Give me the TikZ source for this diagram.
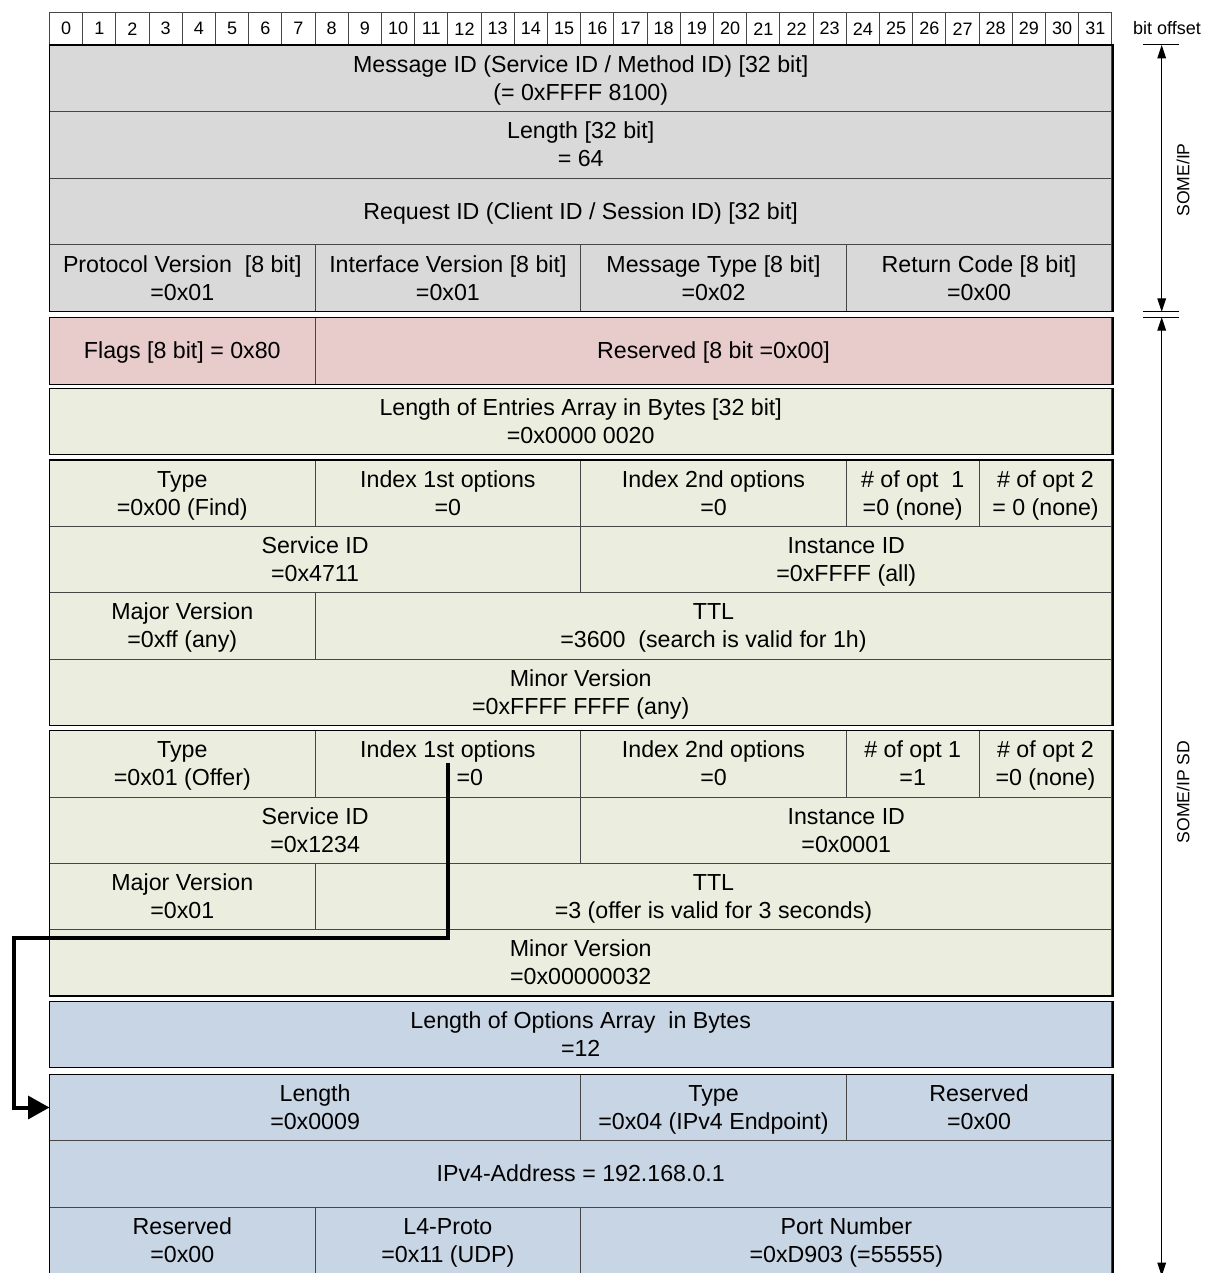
\documentclass[tikz,border=0pt]{standalone}
\usepackage{fontspec}
\setmainfont{Liberation Sans}
\usetikzlibrary{arrows.meta}
\definecolor{cgray}{RGB}{217,217,217}
\definecolor{cpink}{RGB}{232,203,203}
\definecolor{cgreen}{RGB}{235,238,222}
\definecolor{cblue}{RGB}{200,213,228}
\definecolor{cline}{RGB}{70,70,70}
\newcommand\mainf{\fontsize{17.4}{21}\selectfont}
\newcommand\hdrf{\fontsize{13.5}{15}\selectfont}
\newcommand\labf{\fontsize{13.2}{15}\selectfont}
\newcommand\fieldbox[7]{%
  \node[fld,#6,minimum width={(#3-#2)*24.9pt},minimum height={(#5-#4)*0.75pt}] (#1) at ({49.5+(#2+#3)*16.6},{(#4+#5)/2}) {};
  \node[fldtext] (#1t) at ({49.5+(#2+#3)*16.6},{(#4+#5)/2+2.4}) {\strut#7\strut};}
\tikzset{
  fld/.style={draw=cline, line width=0.75pt, inner sep=0pt, outer sep=0pt, rectangle},
  fldtext/.style={inner sep=0pt, outer sep=0pt, align=center, font=\mainf},
  gr/.style={fill=cgray}, pk/.style={fill=cpink}, gn/.style={fill=cgreen}, bl/.style={fill=cblue},
  hdr/.style={draw=cline, fill=white, line width=0.75pt, inner sep=0pt, outer sep=0pt, font=\hdrf, rectangle},
  grp/.style={draw=black, line width=0.9pt},
  lab/.style={font=\labf, inner sep=0pt},
  dimline/.style={line width=0.75pt, {Triangle[length=10pt,width=6.5pt]}-{Triangle[length=10pt,width=6.5pt]}},
  tick/.style={line width=0.75pt},
  bigarrow/.style={line width=3pt, -{Triangle[length=16pt,width=17pt]}}
}
\begin{document}
\begin{tikzpicture}[x=0.75pt,y=-0.75pt]
\useasboundingbox (0,0) rectangle (1204,1273);
% header
\foreach \i in {0,...,31}{
  \node[hdr, minimum width=24.9pt, minimum height={32.5*0.75pt}] (h\i) at ({49.5+33.2*\i+16.6},28.75) {\i};
}
\node[lab, font=\hdrf] (boff) at (1167,28) {bit offset};
% SOME/IP header
\fieldbox{msgid}{0}{32}{45}{111.7}{gr}{Message ID (Service ID / Method ID) [32 bit]\\(= 0xFFFF 8100)}
\fieldbox{len}{0}{32}{111.7}{178.3}{gr}{Length [32 bit]\\= 64}
\fieldbox{reqid}{0}{32}{178.3}{245}{gr}{Request ID (Client ID / Session ID) [32 bit]}
\fieldbox{pv}{0}{8}{245}{311.7}{gr}{Protocol Version\ \ [8 bit]\\=0x01}
\fieldbox{iv}{8}{16}{245}{311.7}{gr}{Interface Version [8 bit]\\=0x01}
\fieldbox{mt}{16}{24}{245}{311.7}{gr}{Message Type [8 bit]\\=0x02}
\fieldbox{rc}{24}{32}{245}{311.7}{gr}{Return Code [8 bit]\\=0x00}
\draw[grp] (49.5,45) rectangle (1112.9,311.7);
% flags
\fieldbox{flags}{0}{8}{317.3}{384.3}{pk}{Flags [8 bit] = 0x80}
\fieldbox{res1}{8}{32}{317.3}{384.3}{pk}{Reserved [8 bit =0x00]}
\draw[grp] (49.5,317.3) rectangle (1112.9,384.3);
% length of entries
\fieldbox{lene}{0}{32}{388.3}{454.7}{gn}{Length of Entries Array in Bytes [32 bit]\\=0x0000 0020}
\draw[grp] (49.5,388.3) rectangle (1112.9,454.7);
% entry 1
\fieldbox{eat}{0}{8}{460}{526.3}{gn}{Type\\=0x00 (Find)}
\fieldbox{eai1}{8}{16}{460}{526.3}{gn}{Index 1st options\\=0}
\fieldbox{eai2}{16}{24}{460}{526.3}{gn}{Index 2nd options\\=0}
\fieldbox{eao1}{24}{28}{460}{526.3}{gn}{\# of opt\ \ 1\\=0 (none)}
\fieldbox{eao2}{28}{32}{460}{526.3}{gn}{\# of opt 2\\= 0 (none)}
\fieldbox{easid}{0}{16}{526.3}{592.7}{gn}{Service ID\\=0x4711}
\fieldbox{eaiid}{16}{32}{526.3}{592.7}{gn}{Instance ID\\=0xFFFF (all)}
\fieldbox{eamaj}{0}{8}{592.7}{659}{gn}{Major Version\\=0xff (any)}
\fieldbox{eattl}{8}{32}{592.7}{659}{gn}{TTL\\=3600\ \ (search is valid for 1h)}
\fieldbox{eamin}{0}{32}{659}{725.3}{gn}{Minor Version\\=0xFFFF FFFF (any)}
\draw[grp] (49.5,460) rectangle (1112.9,725.3);
% entry 2
\fieldbox{ebt}{0}{8}{730.7}{797}{gn}{Type\\=0x01 (Offer)}
\fieldbox{ebi1}{8}{16}{730.7}{797}{gn}{Index 1st options\\\hspace*{33pt}=0}
\fieldbox{ebi2}{16}{24}{730.7}{797}{gn}{Index 2nd options\\=0}
\fieldbox{ebo1}{24}{28}{730.7}{797}{gn}{\# of opt 1\\=1}
\fieldbox{ebo2}{28}{32}{730.7}{797}{gn}{\# of opt 2\\=0 (none)}
\fieldbox{ebsid}{0}{16}{797}{863.3}{gn}{Service ID\\=0x1234}
\fieldbox{ebiid}{16}{32}{797}{863.3}{gn}{Instance ID\\=0x0001}
\fieldbox{ebmaj}{0}{8}{863.3}{929.7}{gn}{Major Version\\=0x01}
\fieldbox{ebttl}{8}{32}{863.3}{929.7}{gn}{TTL\\=3 (offer is valid for 3 seconds)}
\fieldbox{ebmin}{0}{32}{929.7}{996}{gn}{Minor Version\\=0x00000032}
\draw[grp] (49.5,730.7) rectangle (1112.9,996);
% length of options
\fieldbox{leno}{0}{32}{1001.3}{1067.7}{bl}{Length of Options Array\ \ in Bytes\\=12}
\draw[grp] (49.5,1001.3) rectangle (1112.9,1067.7);
% option
\fieldbox{olen}{0}{16}{1074.3}{1140.7}{bl}{Length\\=0x0009}
\fieldbox{otype}{16}{24}{1074.3}{1140.7}{bl}{Type\\=0x04 (IPv4 Endpoint)}
\fieldbox{ores}{24}{32}{1074.3}{1140.7}{bl}{Reserved\\=0x00}
\fieldbox{oip}{0}{32}{1140.7}{1207}{bl}{IPv4-Address = 192.168.0.1}
\fieldbox{ores2}{0}{8}{1207}{1273.3}{bl}{Reserved\\=0x00}
\fieldbox{oproto}{8}{16}{1207}{1273.3}{bl}{L4-Proto\\=0x11 (UDP)}
\fieldbox{oport}{16}{32}{1207}{1273.3}{bl}{Port Number\\=0xD903 (=55555)}
\draw[grp] (49.5,1074.3) rectangle (1112.9,1273.3);
% right side dimensions
\coordinate (t1) at (1161.7,45);
\coordinate (b1) at (1161.7,311.7);
\coordinate (t2) at (1161.7,317.3);
\coordinate (b2) at (1161.7,1276);
\draw[tick] (1143,45) -- (1179,45);
\draw[tick] (1143,311.7) -- (1179,311.7);
\draw[tick] (1143,317.3) -- (1179,317.3);
\draw[dimline] (t1) -- (b1);
\draw[dimline] (t2) -- (b2);
\node[lab, rotate=90] (lsome) at (1183,180) {SOME/IP};
\node[lab, rotate=90] (lsd) at (1183,792) {SOME/IP SD};
% option reference arrow
\coordinate (src) at (447.5,763);
\draw[bigarrow] (src) -- (447.5,938) -- (14,938) |- (olen.west);
\end{tikzpicture}
\end{document}
